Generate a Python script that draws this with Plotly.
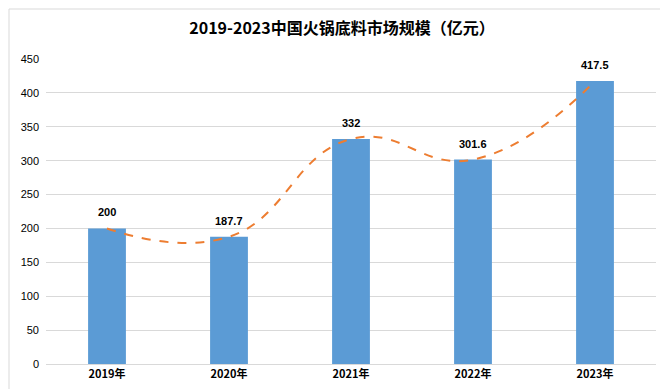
import plotly.graph_objects as go

categories = ["2019年", "2020年", "2021年", "2022年", "2023年"]
values = [200, 187.7, 332, 301.6, 417.5]
labels = ["200", "187.7", "332", "301.6", "417.5"]
y_ticks = [0, 50, 100, 150, 200, 250, 300, 350, 400, 450]

font_family = "Liberation Sans, Noto Sans CJK SC, sans-serif"

W, H = 668, 389
L, R, T, B = 38, 20, 51, 33
pw, ph = W - L - R, H - T - B

fig = go.Figure()
fig.add_trace(go.Bar(
    x=categories, y=values,
    marker=dict(color="#5B9BD5", line=dict(width=0)),
    width=0.31,
    hoverinfo="skip",
))
fig.add_trace(go.Scatter(
    x=categories, y=values,
    mode="lines",
    line=dict(color="#ED7D31", width=2, dash="dash", shape="spline", smoothing=1.3),
    hoverinfo="skip",
))
for c, v, t in zip(categories, values, labels):
    fig.add_annotation(x=c, y=v, text="<b>" + t + "</b>", showarrow=False, yanchor="bottom",
                       yshift=8, font=dict(size=11, color="#000000", family=font_family))

fig.update_layout(
    width=W, height=H,
    margin=dict(l=L, r=R, t=T, b=B),
    paper_bgcolor="white", plot_bgcolor="white",
    showlegend=False,
    title=dict(text="<b>2019-2023中国火锅底料市场规模（亿元）</b>", x=0.5, xanchor="center",
               y=1 - 20 / H, yanchor="middle",
               font=dict(size=16, color="#000000", family="Noto Sans CJK SC, sans-serif")),
    xaxis=dict(showgrid=False, showline=True, linecolor="#D9D9D9", linewidth=1,
               tickvals=categories, ticktext=["<b>" + c + "</b>" for c in categories],
               ticks="", tickfont=dict(size=11, color="#000000", family="Noto Sans CJK SC, sans-serif")),
    yaxis=dict(range=[0, 450], tickvals=y_ticks, showgrid=True, gridcolor="#D9D9D9",
               gridwidth=1, zeroline=False, showline=False, ticks="", ticklabelstandoff=6,
               tickfont=dict(size=11, color="#000000", family=font_family)),
    shapes=[dict(type="rect", xref="paper", yref="paper",
                 x0=-(L - 1) / pw, x1=1 + (R - 1) / pw,
                 y0=-(B - 1) / ph, y1=1 + (T - 1) / ph,
                 line=dict(color="#D9D9D9", width=1))],
)
fig.write_html("out.html")
